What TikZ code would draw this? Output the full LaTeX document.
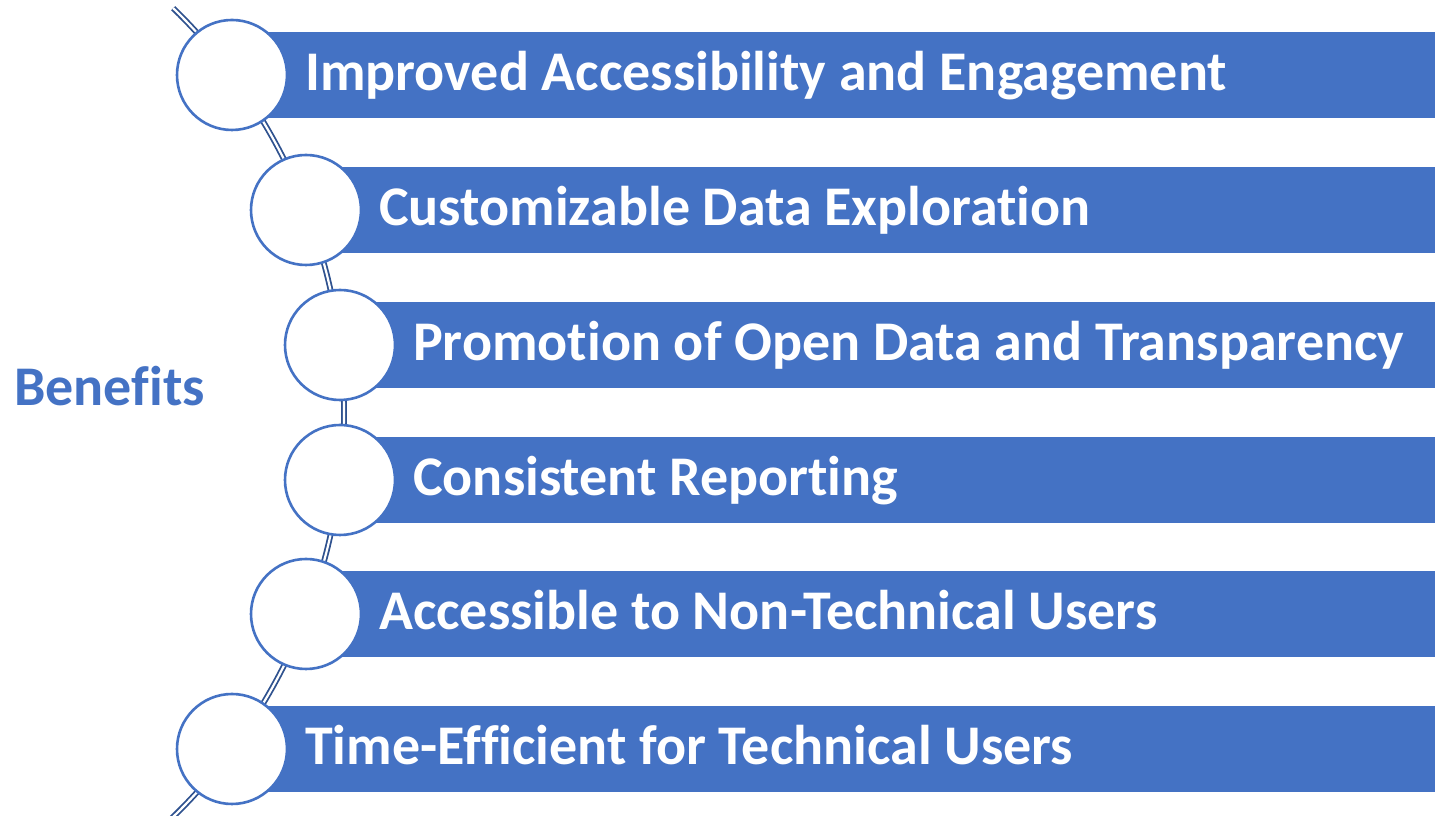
\documentclass[tikz,border=0pt]{standalone}
\usepackage{fontspec}
\setmainfont{Carlito}[Ligatures={NoCommon,NoRare,NoContextual}]
\definecolor{barblue}{HTML}{4472C4}
\definecolor{arcblue}{HTML}{2F528F}
\begin{document}
\begin{tikzpicture}[x=1pt,y=1pt,
  bar/.style={fill=barblue, draw=none, rectangle, anchor=west, minimum height=86pt, inner sep=0pt},
  dot/.style={circle, fill=white, draw=barblue, line width=2.6pt, minimum size=110pt, inner sep=0pt},
  label/.style={anchor=base west, text=white, font=\fontsize{56}{60}\selectfont\bfseries, inner sep=0pt},
  spine/.style={draw=arcblue, line width=1.8pt, double=white, double distance=2.2pt}]
\useasboundingbox (0,0) rectangle (1435,816);
% spine arc
\coordinate (arcc) at (-220,403.5);
\draw[spine] (arcc) ++(45.8:564) arc[start angle=45.8, end angle=-47.5, radius=564pt];
% bars
\foreach \i/\cx/\cy in {1/232/741, 2/306/606, 3/340/471, 4/340/336, 5/306/202, 6/232/67}{
  \node[bar, minimum width={1435-\cx}] (bar\i) at (\cx,\cy) {};
}
% circles
\foreach \i/\cx/\cy in {1/232/741, 2/306/606, 3/340/471, 4/340/336, 5/306/202, 6/232/67}{
  \node[dot] (c\i) at (\cx,\cy) {};
}
% labels
\node[label] (t1) at (305,725) {Improved Accessibility and Engagement};
\node[label] (t2) at (379,590) {Customizable Data Exploration};
\node[label] (t3) at (413,455) {Promotion of Open Data and Transparency};
\node[label] (t4) at (413,320) {Consistent Reporting};
\node[label] (t5) at (379,186) {Accessible to Non-Technical Users};
\node[label] (t6) at (305,51) {Time-Efficient for Technical Users};
\node[anchor=base west, text=barblue, font=\fontsize{56}{60}\selectfont\bfseries, inner sep=0pt] (ben) at (14,410) {Benefits};
\end{tikzpicture}
\end{document}
